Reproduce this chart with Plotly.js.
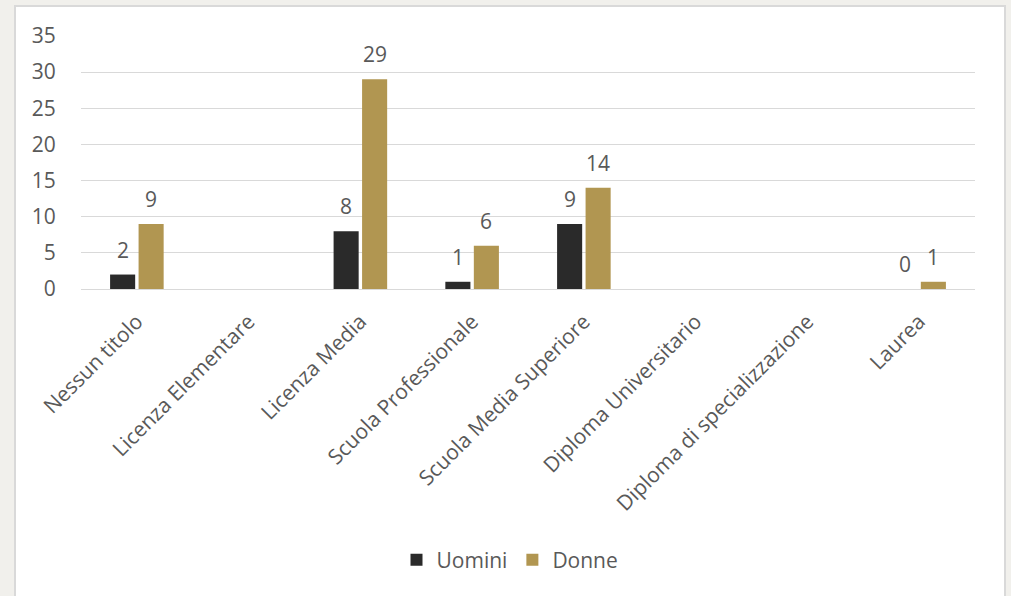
<!DOCTYPE html>
<html>
<head>
<meta charset="utf-8">
<script src="https://cdn.plot.ly/plotly-3.0.1.min.js"></script>
<style>
  html, body { margin: 0; padding: 0; background: #f1f0ec; overflow: hidden; width: 1011px; height: 596px; }
  #chart { position: absolute; left: 14px; top: 5px; width: 988px; height: 600px; border: 2px solid #d9d9d9; background: #ffffff; }
</style>
</head>
<body>
<div id="chart"></div>
<script>
const categories = ["Nessun titolo", "Licenza Elementare", "Licenza Media", "Scuola Professionale",
  "Scuola Media Superiore", "Diploma Universitario", "Diploma di specializzazione", "Laurea"];
const uomini = [2, null, 8, 1, 9, null, null, 0];
const donne = [9, null, 29, 6, 14, null, null, 1];
const seriesNames = ["Uomini", "Donne"];
const seriesColors = ["#2a2a2a", "#b19651"];

const FONT = "'Open Sans', 'Segoe UI', sans-serif";
const GRAY = "#595959";
const FS = 21;

const traces = [uomini, donne].map((vals, i) => ({
  type: "bar",
  name: seriesNames[i],
  x: categories,
  y: vals,
  marker: { color: seriesColors[i] },
  hoverinfo: "x+y+name"
}));

const annotations = [];
[uomini, donne].forEach((vals, i) => {
  vals.forEach((v, j) => {
    if (v === null) return;
    annotations.push({
      x: categories[j], y: v, xref: "x", yref: "y",
      text: String(v), showarrow: false,
      xanchor: "center", yanchor: "middle",
      xshift: i === 0 ? -14.2 : 14.2, yshift: 25,
      font: { family: FONT, size: FS, color: GRAY }
    });
  });
});

const layout = {
  width: 988, height: 600,
  margin: { l: 65, r: 29, t: 29, b: 318, pad: 0 },
  paper_bgcolor: "#ffffff",
  plot_bgcolor: "#ffffff",
  barmode: "group",
  bargap: 0.49,
  bargroupgap: 0.12,
  font: { family: FONT, size: FS, color: GRAY },
  xaxis: {
    type: "category",
    tickangle: -45,
    tickfont: { family: FONT, size: FS, color: GRAY },
    showgrid: false, showline: false, zeroline: false,
    ticks: "outside", ticklen: 11, tickcolor: "rgba(0,0,0,0)", automargin: false
  },
  yaxis: {
    range: [0, 35], dtick: 5, tick0: 0,
    showgrid: true, gridcolor: "#d9d9d9", gridwidth: 1,
    zeroline: true, zerolinecolor: "#d9d9d9", zerolinewidth: 1,
    showline: false,
    ticks: "outside", ticklen: 20, tickcolor: "rgba(0,0,0,0)",
    tickfont: { family: FONT, size: FS, color: GRAY },
    automargin: false, fixedrange: true
  },
  showlegend: true,
  legend: {
    orientation: "h",
    xref: "container", yref: "container",
    x: 0.5, xanchor: "center",
    y: 0.078, yanchor: "middle",
    font: { family: FONT, size: FS, color: GRAY },
    itemwidth: 30,
    traceorder: "normal"
  },
  annotations: annotations
};

Plotly.newPlot("chart", traces, layout, { displayModeBar: false, staticPlot: true });
</script>
</body>
</html>
